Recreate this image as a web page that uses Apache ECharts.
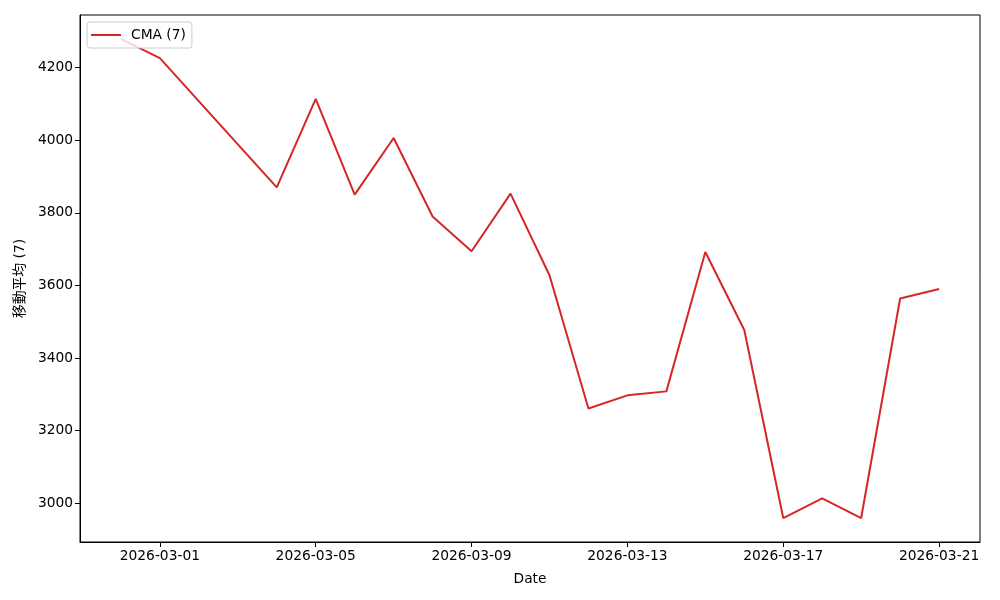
<!DOCTYPE html>
<html>
<head>
<meta charset="utf-8">
<script src="https://cdn.jsdelivr.net/npm/echarts@6/dist/echarts.min.js"></script>
<style>
html,body{margin:0;padding:0;background:#fff;}
#chart{width:1000px;height:600px;}
</style>
</head>
<body>
<div id="chart"></div>
<script>
const dates = ['2026-02-28','2026-03-01','2026-03-04','2026-03-05','2026-03-06','2026-03-07','2026-03-08','2026-03-09','2026-03-10','2026-03-11','2026-03-12','2026-03-13','2026-03-14','2026-03-15','2026-03-16','2026-03-17','2026-03-18','2026-03-19','2026-03-20','2026-03-21'];
const cmaValues = [4279,4226,3870,4114,3850,4006,3790,3694,3853,3628,3261,3297,3308,3692,3477,2959,3013,2959,3564,3590];
const xTickLabels = ['2026-03-01','2026-03-05','2026-03-09','2026-03-13','2026-03-17','2026-03-21'];
const yTicks = [3000,3200,3400,3600,3800,4000,4200];
const seriesName = 'CMA (7)';
const yTitle = '移動平均 (7)';
const xTitle = 'Date';

const DAY = 86400000;
const base = Date.UTC(2026,2,1);
function dayIdx(s){const p=s.split('-').map(Number);return (Date.UTC(p[0],p[1]-1,p[2])-base)/DAY;}
function fmt(d){const t=new Date(base+Math.round(d)*DAY);return t.toISOString().slice(0,10);}

const xs = dates.map(dayIdx);
const data = xs.map((x,i)=>[x,cmaValues[i]]);
const span = xs[xs.length-1]-xs[0];
const xMin = xs[0]-span*0.05, xMax = xs[xs.length-1]+span*0.05;
const vmin = Math.min(...cmaValues), vmax = Math.max(...cmaValues);
const vs = vmax-vmin;
const yMin = vmin-vs*0.05, yMax = vmax+vs*0.05;
const xTickVals = xTickLabels.map(dayIdx);

const font = 'DejaVu Sans';
const chart = echarts.init(document.getElementById('chart'),null,{renderer:'canvas'});
chart.setOption({
  animation:false,
  backgroundColor:'#fff',
  grid:{left:80,top:15,right:20,bottom:58,show:true,borderColor:'#000',borderWidth:1,backgroundColor:'transparent'},
  legend:{
    show:true,left:87,top:22,orient:'vertical',
    backgroundColor:'rgba(255,255,255,0.8)',borderColor:'#cccccc',borderWidth:1,borderRadius:3,
    padding:[6,6,6,4],itemWidth:30,itemHeight:2,itemGap:6,
    textStyle:{fontFamily:font,fontSize:13.8,color:'#000',padding:[0,0,0,5],lineHeight:14},
    data:[{name:seriesName,icon:'rect'}]
  },
  xAxis:{
    type:'value',min:xMin,max:xMax,
    name:xTitle,nameLocation:'middle',nameGap:30,
    nameTextStyle:{fontFamily:font,fontSize:13.8,color:'#000'},
    splitLine:{show:false},
    axisLine:{show:true,onZero:false,lineStyle:{color:'#000',width:1}},
    axisTick:{show:true,length:5,lineStyle:{color:'#000'},customValues:xTickVals},
    axisLabel:{fontFamily:font,fontSize:13.8,color:'#000',margin:7,customValues:xTickVals,formatter:v=>fmt(v)}
  },
  yAxis:{
    type:'value',min:yMin,max:yMax,
    name:yTitle,nameLocation:'middle',nameGap:52,
    nameTextStyle:{fontFamily:"DejaVu Sans, 'Noto Sans CJK JP'",fontSize:13.8,color:'#000'},
    splitLine:{show:false},
    axisLine:{show:true,onZero:false,lineStyle:{color:'#000',width:1}},
    axisTick:{show:true,length:5,lineStyle:{color:'#000'},customValues:yTicks},
    axisLabel:{fontFamily:font,fontSize:13.8,color:'#000',margin:7,customValues:yTicks,formatter:v=>String(v)}
  },
  series:[{
    name:seriesName,type:'line',data:data,
    showSymbol:false,symbol:'none',
    lineStyle:{color:'#d62728',width:2},
    itemStyle:{color:'#d62728'},
    z:2
  }]
});
</script>
</body>
</html>
